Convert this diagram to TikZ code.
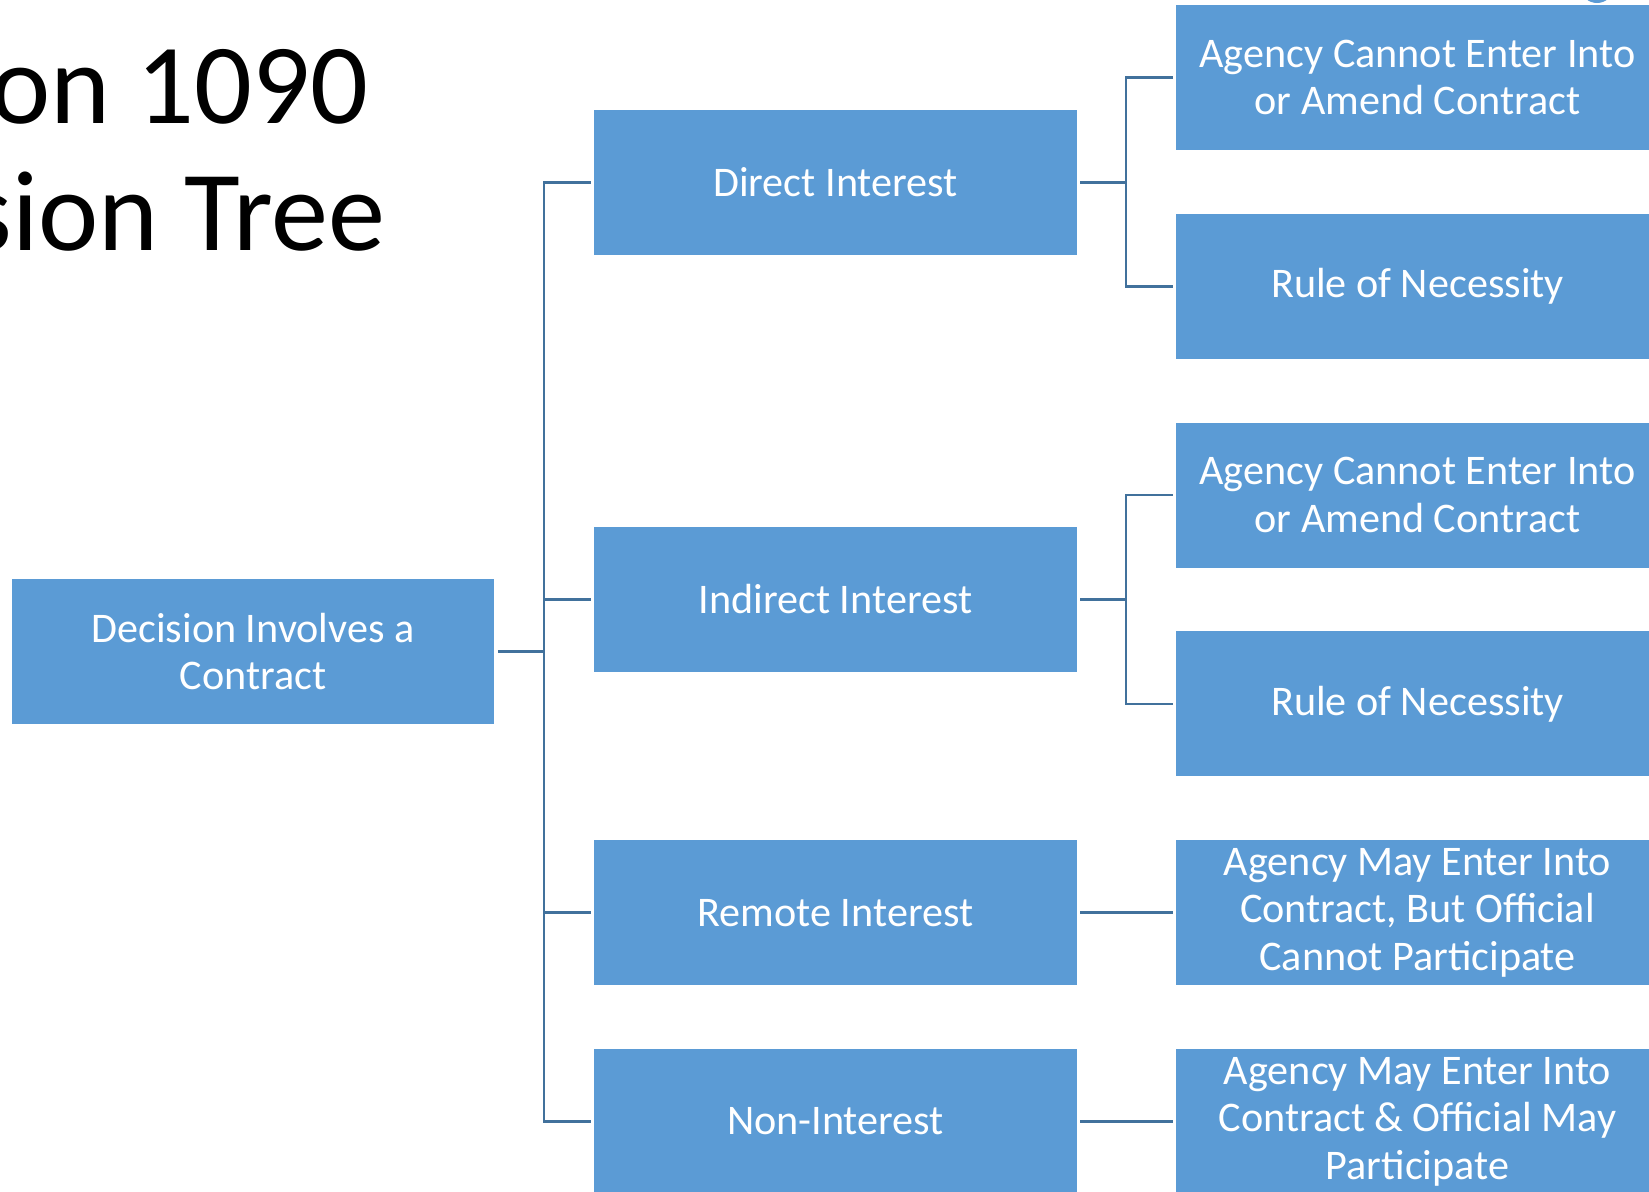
\documentclass[tikz,border=0pt]{standalone}
\usepackage{fontspec}
\setmainfont{Carlito}
\usepackage{xcolor}
\usepackage{tikz}
\definecolor{boxblue}{HTML}{5B9BD5}
\definecolor{linkblue}{HTML}{41719C}

\begin{document}
\begin{tikzpicture}[x=0.02cm,y=-0.02cm,
	box/.style={fill=boxblue,text=white,minimum width=9.66cm,minimum height=2.9cm,
		align=center,inner sep=0pt,font=\fontsize{24}{27}\selectfont},
	link/.style={draw=linkblue,line width=1.4pt}]
	\clip (0,0) rectangle (1649,1191);
	\useasboundingbox (0,0) rectangle (1649,1191);
	\node[anchor=base west,inner sep=0pt,font=\fontsize{65}{70}\selectfont] (title1) at (-231,123) {Section 1090};
	\node[anchor=base west,inner sep=0pt,font=\fontsize{65}{70}\selectfont] (title2) at (-234,250) {Decision Tree};
	\node[box] (root) at (253,651.5) {Decision Involves a\\Contract};
	\node[box] (direct) at (835.5,182.5) {Direct Interest};
	\node[box] (indirect) at (835.5,599.5) {Indirect Interest};
	\node[box] (remote) at (835.5,912.7) {Remote Interest};
	\node[box] (noint) at (835.5,1121.5) {Non-Interest};
	\node[box] (dcannot) at (1417.5,77.5) {Agency Cannot Enter Into\\or Amend Contract};
	\node[box] (dnecess) at (1417.5,286.3) {Rule of Necessity};
	\node[box] (icannot) at (1417.5,495.1) {Agency Cannot Enter Into\\or Amend Contract};
	\node[box] (inecess) at (1417.5,703.9) {Rule of Necessity};
	\node[box] (rmay) at (1417.5,912.7) {Agency May Enter Into\\Contract, But Official\\Cannot Participate};
	\node[box] (nmay) at (1417.5,1121.5) {Agency May Enter Into\\Contract \& Official May\\Participate};
	\coordinate (trunk) at (544,651.5);
	\draw[link] ([xshift=0.06cm]root.east) -- (trunk);
	\foreach \n in {direct,indirect,remote,noint}
		\draw[link] (trunk) |- ([xshift=-0.06cm]\n.west);
	\coordinate (dsplit) at (1126,182.5);
	\coordinate (isplit) at (1126,599.5);
	\draw[link] ([xshift=0.06cm]direct.east) -- (dsplit);
	\draw[link] (dsplit) |- ([xshift=-0.06cm]dcannot.west);
	\draw[link] (dsplit) |- ([xshift=-0.06cm]dnecess.west);
	\draw[link] ([xshift=0.06cm]indirect.east) -- (isplit);
	\draw[link] (isplit) |- ([xshift=-0.06cm]icannot.west);
	\draw[link] (isplit) |- ([xshift=-0.06cm]inecess.west);
	\draw[link] ([xshift=0.06cm]remote.east) -- ([xshift=-0.06cm]rmay.west);
	\draw[link] ([xshift=0.06cm]noint.east) -- ([xshift=-0.06cm]nmay.west);
	\fill[boxblue] (1597,-12) ellipse [x radius=16,y radius=15];
\end{tikzpicture}
\end{document}
